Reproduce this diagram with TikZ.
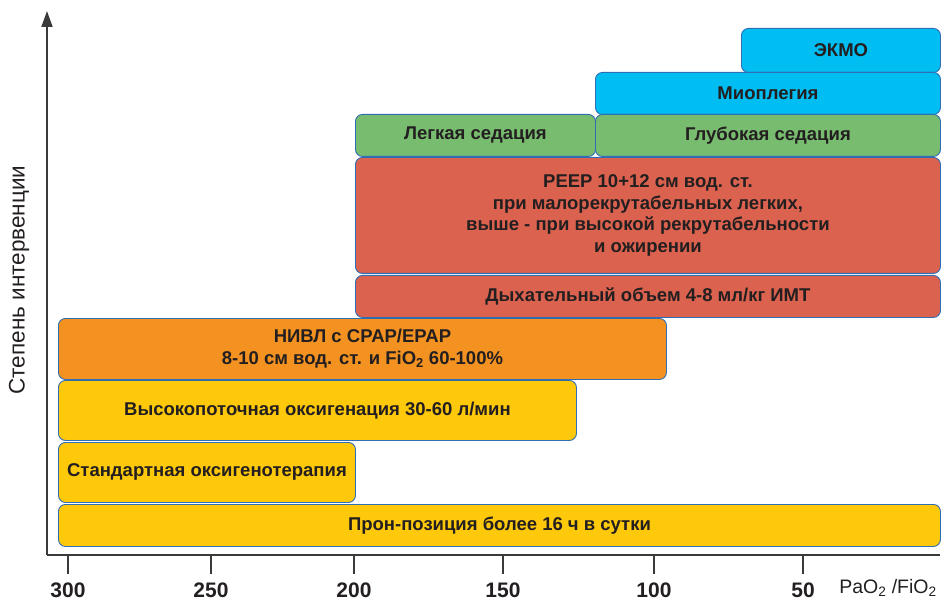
\documentclass[tikz,border=0pt]{standalone}
\usepackage{fontspec}
\setmainfont{Liberation Sans}
\usepackage{tikz}
\usetikzlibrary{arrows.meta}
\definecolor{cyanbox}{HTML}{00BDF2}
\definecolor{greenbox}{HTML}{78BC6F}
\definecolor{redbox}{HTML}{DB624E}
\definecolor{orangebox}{HTML}{F39221}
\definecolor{yellowbox}{HTML}{FEC80B}
\definecolor{boxedge}{HTML}{2F6EB5}
\definecolor{inktext}{HTML}{231F20}
\definecolor{axisgray}{HTML}{3A3A3A}

\begin{document}
\begin{tikzpicture}[x=1pt,y=-1pt,
    stage/.style={draw=boxedge,line width=0.9pt,rounded corners=7pt,
        text=inktext,font=\fontsize{18.5}{21.7}\selectfont\bfseries,align=center,
        inner sep=0pt,anchor=north west},
    axis/.style={axisgray,line width=1.8pt},
    ticklabel/.style={text=inktext,font=\fontsize{21}{24}\selectfont\bfseries}]
            \useasboundingbox (0,0) rectangle (941,601);

            % axes
            \coordinate (o) at (47,555);
            \coordinate (ytop) at (47,11);
            \coordinate (xend) at (940,555);
            \draw[axis,-{Triangle[length=16pt,width=11pt]}] (o) -- (ytop);
            \draw[axis] (o) -- (xend);
            \node[rotate=90,text=inktext,font=\fontsize{22.5}{24}\selectfont] (ylab) at (19,280) {Степень интервенции};
            \foreach \x/\v in {68/300,211/250,354/200,503/150,654/100,803/50}{
                \draw[axis] (\x,555) -- (\x,574);
                \node[ticklabel] (t\v) at (\x,590) {\v};
            }
            \node[ticklabel,font=\fontsize{19.5}{24}\selectfont] (ratio) at (888,588) {PaO\textsubscript{2} /FiO\textsubscript{2}};

            % interventions
            \node[stage,fill=cyanbox,minimum width=199pt,minimum height=44pt] (ekmo) at (741,28) {ЭКМО};
            \node[stage,fill=cyanbox,minimum width=345pt,minimum height=42pt] (mio) at (595,72) {Миоплегия};
            \node[stage,fill=greenbox,minimum width=240pt,minimum height=42pt] (light) at (355,114) {Легкая седация};
            \node[stage,fill=greenbox,minimum width=345pt,minimum height=42pt] (deep) at (595,114) {Глубокая седация};
            \node[stage,fill=redbox,minimum width=585pt,minimum height=116pt] (peep) at (355,157)
                {PEEP 10+12 см вод. ст.\\при малорекрутабельных легких,\\выше - при высокой рекрутабельности\\и ожирении};
            \node[stage,fill=redbox,minimum width=585pt,minimum height=42pt] (vt) at (355,275) {Дыхательный объем 4-8 мл/кг ИМТ};
            \node[stage,fill=orangebox,minimum width=608pt,minimum height=61pt] (nivl) at (58,318)
                {НИВЛ с CPAP/EPAP\\8-10 см вод. ст. и FiO\textsubscript{2} 60-100\%};
            \node[stage,fill=yellowbox,minimum width=518pt,minimum height=60pt] (hfno) at (58,380) {Высокопоточная оксигенация 30-60 л/мин};
            \node[stage,fill=yellowbox,minimum width=297pt,minimum height=60pt] (std) at (58,442) {Стандартная оксигенотерапия};
            \node[stage,fill=yellowbox,minimum width=882pt,minimum height=42pt] (prone) at (58,504) {Прон-позиция более 16 ч в сутки};
        \end{tikzpicture}
\end{document}
